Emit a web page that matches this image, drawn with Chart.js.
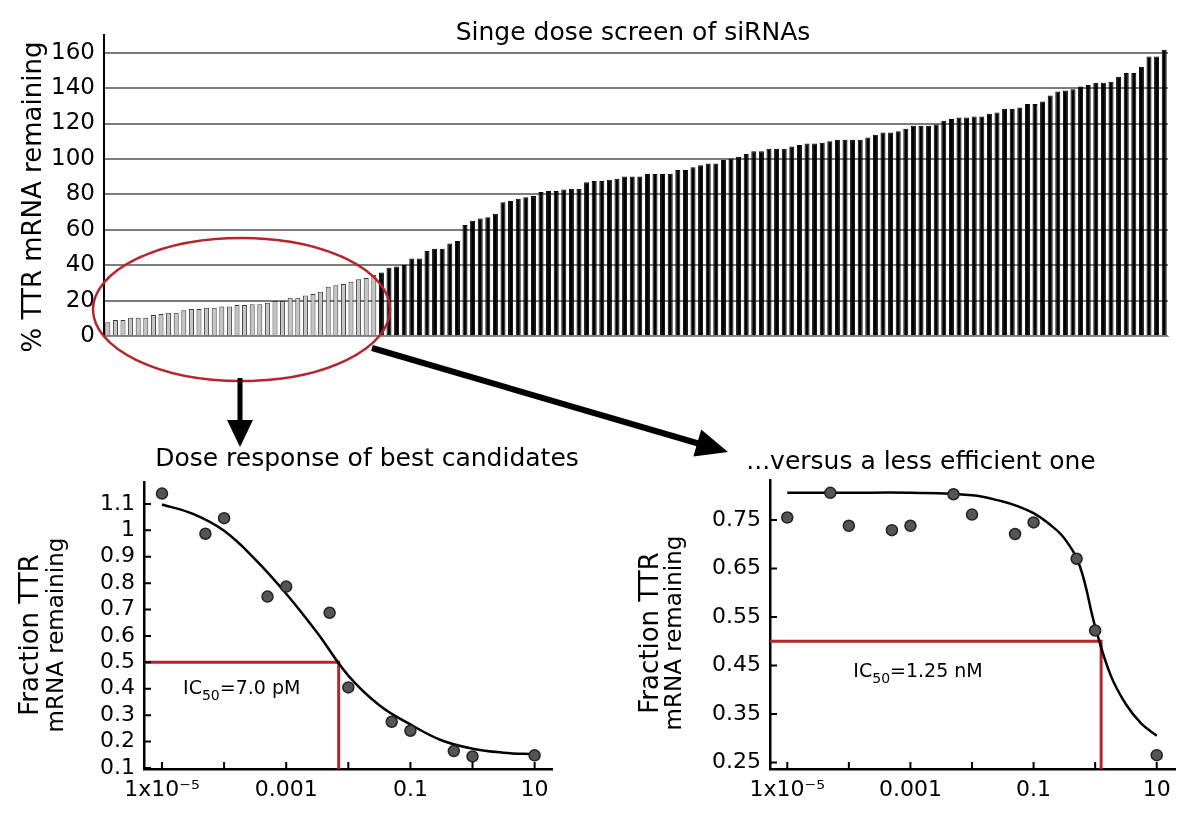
<!DOCTYPE html>
<html>
<head>
<meta charset="utf-8">
<script src="https://cdn.jsdelivr.net/npm/chart.js@4.4.1/dist/chart.umd.min.js"></script>
<style>
  html, body { margin: 0; padding: 0; background: #fff; }
  #wrap { position: relative; width: 1200px; height: 820px; }
  canvas { position: absolute; }
  #screenChart { left: 0; top: 0; }
  #bestChart { left: 0; top: 440px; }
  #weakChart { left: 600px; top: 440px; }
  svg { position: absolute; left: 0; top: 0; pointer-events: none; }
</style>
</head>
<body>
<div id="wrap">
  <canvas id="screenChart" width="1200" height="360"></canvas>
  <canvas id="bestChart" width="600" height="380"></canvas>
  <canvas id="weakChart" width="600" height="380"></canvas>
  <svg width="1200" height="820" viewBox="0 0 1200 820">
    <ellipse cx="241.5" cy="309.5" rx="148.5" ry="71.5" fill="none" stroke="#b5262c" stroke-width="2.5"/>
    <line x1="240" y1="378" x2="240" y2="424" stroke="#000" stroke-width="5"/>
    <polygon points="227,420 253,420 240,447" fill="#000"/>
    <line x1="372" y1="348" x2="700" y2="444" stroke="#000" stroke-width="6"/>
    <polygon points="693.4,456.4 701.2,429.6 728,452" fill="#000"/>
  </svg>
</div>
<script>
// single dose screen, sorted (% TTR mRNA remaining)
const screenValues = [
  7.7, 9, 9, 10.3, 10.3, 10.3, 11.8, 12.4, 13.2, 13.2, 14.5, 15.2, 15.2, 16, 16, 16.7, 16.7, 17.5,
  17.5, 18, 18, 18.8, 19.7, 19.7, 21.6, 21.6, 22.9, 23.7, 25, 27.8, 28.6, 29.3, 30.6, 32.1, 32.7, 34.4,
  35.8, 38.6, 39.2, 40.3, 43.8, 43.8, 48, 49.3, 49.3, 52.2, 53.7, 62.7, 65.1, 66.3, 67, 69, 75.6, 76.2,
  77.5, 78.3, 79, 81.3, 81.9, 81.9, 82.7, 83.2, 83.2, 86.9, 87.6, 87.6, 88.2, 88.8, 90.1, 90.1, 90.1,
  91.5, 91.5, 91.5,
  91.7, 93.8, 93.8, 95.3, 96.4, 97.4, 97.4, 99.4, 100.2, 101.3, 102.8, 104.3, 104.3, 105.7, 105.7, 105.7,
  107, 107.9, 108.7, 108.7, 109.2, 110, 110.8, 110.8, 110.8, 110.8, 112.1, 113.6, 114.9, 114.9, 115.7,
  117, 118.8, 118.8, 118.8,
  119.5, 121.5, 122.6, 123.4, 123.4, 124, 124, 125.5, 126.2, 128.3, 128.3, 129, 131.1, 131.1, 132.5,
  135.8, 138.1, 138.7, 139.4, 140.9, 141.7, 143, 143, 143.6, 146.4, 148.5, 148.5, 152, 157.9, 157.9, 161.7
];
const bestCount = 36; // the circled candidates
const screenTicks = [0, 20, 40, 60, 80, 100, 120, 140, 160];

// dose response (nM)
const doses = [1e-5, 5e-5, 1e-4, 5e-4, 1e-3, 5e-3, 1e-2, 5e-2, 0.1, 0.5, 1, 10];
const bestFraction = [1.139, 0.987, 1.046, 0.749, 0.787, 0.688, 0.405, 0.275, 0.241, 0.164, 0.144, 0.148];
const weakFraction = [0.755, 0.806, 0.738, 0.729, 0.738, 0.803, 0.761, 0.721, 0.745, 0.670, 0.522, 0.265];

// fitted curves
const bestFitDose = [1e-5, 3.16e-5, 1e-4, 3.16e-4, 1e-3, 3.16e-3, 1e-2, 3.16e-2, 0.1, 0.316, 1, 3.16, 10];
const bestFitFraction = [1.098, 1.062, 0.998, 0.89, 0.76, 0.612, 0.45, 0.338, 0.265, 0.205, 0.173, 0.158, 0.152];
const weakFitDose = [1e-5, 1e-4, 1e-3, 1e-2, 3.16e-2, 5.62e-2, 0.1, 0.178, 0.316, 0.562, 1, 1.78, 3.16, 5.62, 10];
const weakFitFraction = [0.806, 0.806, 0.806, 0.801, 0.788, 0.778, 0.764, 0.742, 0.712, 0.655, 0.53, 0.43, 0.37, 0.33, 0.305];

const bestIC50 = 0.007;
const weakIC50 = 1.25;

const doseTicks = [1e-5, 1e-4, 1e-3, 1e-2, 0.1, 1, 10];
const doseTickLabels = ['1x10\u207B\u2075', '', '0.001', '', '0.1', '', '10'];
const bestTicks = [0.1, 0.2, 0.3, 0.4, 0.5, 0.6, 0.7, 0.8, 0.9, 1, 1.1];
const weakTicks = [0.25, 0.35, 0.45, 0.55, 0.65, 0.75];

const FONT = "'DejaVu Sans', sans-serif";
Chart.defaults.font.family = FONT;
Chart.defaults.color = '#000';
Chart.defaults.animation = false;

// free text (titles, axis titles) at canvas positions
const textPlugin = {
  id: 'texts',
  afterDraw(chart, args, opts) {
    const ctx = chart.ctx;
    (opts.items || []).forEach(t => {
      ctx.save();
      ctx.translate(t.x, t.y);
      if (t.rotate) ctx.rotate(t.rotate);
      ctx.font = `${t.size}px ${FONT}`;
      ctx.fillStyle = '#000';
      ctx.textAlign = 'center';
      ctx.textBaseline = 'middle';
      ctx.fillText(t.text, 0, 0);
      ctx.restore();
    });
  }
};

// short tick marks pointing into the plot
const innerTicks = {
  id: 'innerTicks',
  afterDatasetsDraw(chart, args, opts) {
    const {ctx, chartArea: a, scales: {x, y}} = chart;
    const len = opts.length || 7;
    ctx.save();
    ctx.strokeStyle = '#000';
    ctx.lineWidth = 2;
    ctx.beginPath();
    x.ticks.forEach(t => {
      const px = x.getPixelForValue(t.value);
      ctx.moveTo(px, a.bottom);
      ctx.lineTo(px, a.bottom - len);
    });
    y.ticks.forEach(t => {
      const py = y.getPixelForValue(t.value);
      ctx.moveTo(a.left, py);
      ctx.lineTo(a.left + len, py);
    });
    ctx.stroke();
    ctx.restore();
  }
};

// IC50 label with subscript
const icLabel = {
  id: 'icLabel',
  afterDatasetsDraw(chart, args, opts) {
    const {ctx, scales: {x, y}} = chart;
    const px = x.getPixelForValue(opts.x), py = y.getPixelForValue(opts.y);
    const big = `19px ${FONT}`, small = `14px ${FONT}`;
    ctx.save();
    ctx.fillStyle = '#000';
    ctx.textBaseline = 'alphabetic';
    ctx.textAlign = 'left';
    ctx.font = big;
    const w1 = ctx.measureText('IC').width;
    const w3 = ctx.measureText(opts.text).width;
    ctx.font = small;
    const w2 = ctx.measureText('50').width;
    const sx = px - (w1 + w2 + w3) / 2;
    ctx.font = big;
    ctx.fillText('IC', sx, py);
    ctx.font = small;
    ctx.fillText('50', sx + w1, py + 6);
    ctx.font = big;
    ctx.fillText(opts.text, sx + w1 + w2, py);
    ctx.restore();
  }
};

// ---- top: single dose screen ----
new Chart(document.getElementById('screenChart'), {
  type: 'bar',
  data: {
    labels: screenValues.map((v, i) => String(i + 1)),
    datasets: [{
      data: screenValues,
      backgroundColor: screenValues.map((v, i) => i < bestCount ? '#c4c4c4' : '#000'),
      borderColor: screenValues.map((v, i) => i < bestCount ? '#3a3a3a' : '#000'),
      borderWidth: 1,
      barPercentage: 0.66,
      categoryPercentage: 1
    }]
  },
  plugins: [textPlugin],
  options: {
    responsive: false,
    devicePixelRatio: 1,
    layout: { padding: { left: 0, right: 32, top: 35, bottom: 0 } },
    plugins: {
      legend: { display: false },
      tooltip: { enabled: false },
      texts: { items: [
        { text: 'Singe dose screen of siRNAs', x: 633, y: 33, size: 25 },
        { text: '% TTR mRNA remaining', x: 34, y: 197, size: 26, rotate: -Math.PI / 2 }
      ] }
    },
    scales: {
      x: {
        afterFit: s => { s.height = 24; },
        ticks: { display: false },
        grid: { display: false, drawTicks: false },
        border: { display: true, color: '#8a8a8a', width: 1 }
      },
      y: {
        min: 0, max: 170,
        afterBuildTicks: s => { s.ticks = screenTicks.map(v => ({ value: v })); },
        afterFit: s => { s.width = 104; },
        ticks: { autoSkip: false, padding: 9, font: { size: 23 }, color: '#000' },
        grid: { color: '#7c7c7c', lineWidth: 2, drawTicks: false },
        border: { display: true, color: '#000', width: 2 }
      }
    }
  }
});

// ---- bottom: dose response charts ----
function doseChart(id, cfg) {
  const pts = doses.map((d, i) => ({ x: d, y: cfg.fraction[i] }));
  const fit = cfg.fitDose.map((d, i) => ({ x: d, y: cfg.fitFraction[i] }));
  const ic = [
    { x: cfg.xMin, y: 0.5 },
    { x: cfg.ic50, y: 0.5 },
    { x: cfg.ic50, y: cfg.yMin }
  ];
  new Chart(document.getElementById(id), {
    type: 'scatter',
    data: {
      datasets: [
        { data: pts, pointRadius: 5.5, pointBackgroundColor: '#555',
          pointBorderColor: '#222', pointBorderWidth: 1.5, showLine: false },
        { data: fit, showLine: true, borderColor: '#000', borderWidth: 2.5,
          pointRadius: 0, tension: 0.4 },
        { data: ic, showLine: true, borderColor: '#b3262b', borderWidth: 3,
          pointRadius: 0, tension: 0 }
      ]
    },
    plugins: [textPlugin, innerTicks, icLabel],
    options: {
      responsive: false,
      devicePixelRatio: 1,
      layout: { padding: { left: 0, right: cfg.padRight, top: cfg.padTop, bottom: 0 } },
      plugins: {
        legend: { display: false },
        tooltip: { enabled: false },
        texts: { items: cfg.texts },
        innerTicks: { length: 7 },
        icLabel: { text: cfg.icText, x: cfg.icX, y: cfg.icY }
      },
      scales: {
        x: {
          type: 'logarithmic', min: cfg.xMin, max: cfg.xMax,
          afterBuildTicks: s => { s.ticks = doseTicks.map(v => ({ value: v })); },
          afterFit: s => { s.height = 51; },
          grid: { display: false, drawTicks: false },
          border: { display: true, color: '#000', width: 2.5 },
          ticks: { autoSkip: false, maxRotation: 0, padding: 8, font: { size: 22 }, color: '#000',
                   callback: (v, i) => doseTickLabels[i] }
        },
        y: {
          min: cfg.yMin, max: cfg.yMax,
          afterBuildTicks: s => { s.ticks = cfg.yTicks.map(v => ({ value: v })); },
          afterFit: s => { s.width = cfg.yWidth; },
          grid: { display: false, drawTicks: false },
          border: { display: true, color: '#000', width: 2.5 },
          ticks: { autoSkip: false, padding: 9, font: { size: 22 }, color: '#000', callback: v => String(v) }
        }
      }
    }
  });
}

doseChart('bestChart', {
  fraction: bestFraction, fitDose: bestFitDose, fitFraction: bestFitFraction,
  ic50: bestIC50, xMin: 5.13e-6, xMax: 19.05, yMin: 0.0962, yMax: 1.183, yTicks: bestTicks,
  yWidth: 144, padRight: 48, padTop: 42,
  icText: '=7.0 pM', icX: 1.92e-4, icY: 0.381,
  texts: [
    { text: 'Dose response of best candidates', x: 367, y: 19, size: 25 },
    { text: 'Fraction TTR', x: 31, y: 195, size: 26, rotate: -Math.PI / 2 },
    { text: 'mRNA remaining', x: 57, y: 195, size: 23, rotate: -Math.PI / 2 }
  ]
});

doseChart('weakChart', {
  fraction: weakFraction, fitDose: weakFitDose, fitFraction: weakFitFraction,
  ic50: weakIC50, xMin: 5.24e-6, xMax: 19.8, yMin: 0.2364, yMax: 0.8324, yTicks: weakTicks,
  yWidth: 170, padRight: 25, padTop: 40,
  icText: '=1.25 nM', icX: 1.33e-3, icY: 0.427,
  texts: [
    { text: '...versus a less efficient one', x: 321, y: 22, size: 25 },
    { text: 'Fraction TTR', x: 51, y: 193, size: 26, rotate: -Math.PI / 2 },
    { text: 'mRNA remaining', x: 75, y: 193, size: 23, rotate: -Math.PI / 2 }
  ]
});
</script>
</body>
</html>
